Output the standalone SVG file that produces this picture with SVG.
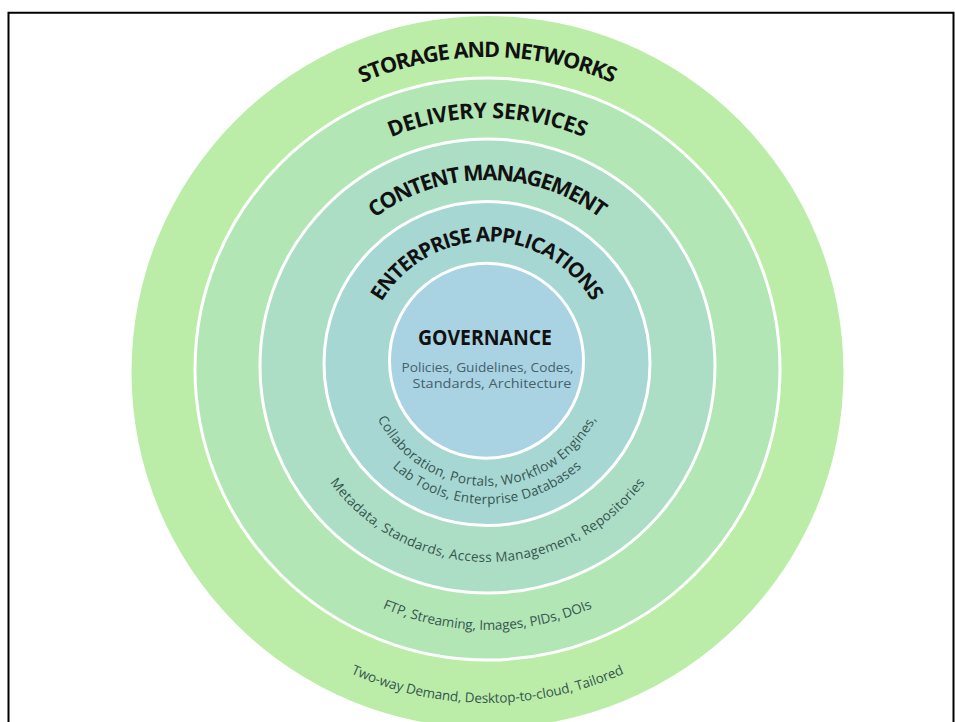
<svg xmlns="http://www.w3.org/2000/svg" xmlns:xlink="http://www.w3.org/1999/xlink" width="955" height="722" viewBox="0 0 955 722">
  <style>
    .ring { stroke: #ffffff; stroke-width: 3; }
    .title { font-family: "Open Sans", "Noto Sans", "Liberation Sans", sans-serif; font-weight: 700; font-size: 21.5px; fill: #111111; }
    .desc { font-family: "Open Sans", "Noto Sans", "Liberation Sans", sans-serif; font-weight: 400; font-size: 13.5px; fill: #36554f; }
  </style>
  <defs>
    <path id="pStorage" d="M 172.5 372 A 315 315 0 0 1 802.5 372"/>
    <path id="pDelivery" d="M 236.5 369 A 251 251 0 0 1 738.5 369"/>
    <path id="pContent" d="M 301.5 366 A 186 186 0 0 1 673.5 366"/>
    <path id="pEnterprise" d="M 365 363.5 A 122 122 0 0 1 609 363.5"/>
    <path id="pCollab" d="M 364.5 363.5 A 122.5 122.5 0 0 0 609.5 363.5"/>
    <path id="pLab" d="M 346.5 363.5 A 140.5 140.5 0 0 0 627.5 363.5"/>
    <path id="pMeta" d="M 291.5 366 A 196 196 0 0 0 683.5 366"/>
    <path id="pFTP" d="M 226.5 369 A 261 261 0 0 0 748.5 369"/>
    <path id="pTwo" d="M 156.5 372 A 331 331 0 0 0 818.5 372"/>
  </defs>
  <rect x="0" y="0" width="955" height="722" fill="#ffffff"/>
  <path d="M 8.5 722 L 8.5 12.7 L 953.5 12.7 L 953.5 722" fill="none" stroke="#000000" stroke-width="2"/>

  <g id="storage-networks">
    <ellipse cx="487.5" cy="372" rx="356" ry="356" fill="#bbeda8"/>
    <text class="title"><textPath href="#pStorage" xlink:href="#pStorage" startOffset="50%" text-anchor="middle" textLength="258" lengthAdjust="spacing">STORAGE AND NETWORKS</textPath></text>
  </g>
  <g id="delivery-services">
    <ellipse class="ring" cx="487.5" cy="369" rx="292.5" ry="291" fill="#b2e6b5"/>
    <text class="title"><textPath href="#pDelivery" xlink:href="#pDelivery" startOffset="50%" text-anchor="middle" textLength="198" lengthAdjust="spacing">DELIVERY SERVICES</textPath></text>
  </g>
  <g id="content-management">
    <ellipse class="ring" cx="487.5" cy="366" rx="227.5" ry="227" fill="#acdec6"/>
    <text class="title"><textPath href="#pContent" xlink:href="#pContent" startOffset="50%" text-anchor="middle" textLength="242" lengthAdjust="spacing">CONTENT MANAGEMENT</textPath></text>
  </g>
  <g id="enterprise-applications">
    <ellipse class="ring" cx="487" cy="363.5" rx="163" ry="162" fill="#a7d7d3"/>
    <text class="title" style="font-size:20.5px"><textPath href="#pEnterprise" xlink:href="#pEnterprise" startOffset="50%" text-anchor="middle" textLength="254" lengthAdjust="spacing">ENTERPRISE APPLICATIONS</textPath></text>
  </g>
  <g id="governance">
    <ellipse class="ring" cx="486.5" cy="360.7" rx="97" ry="97.5" fill="#a9d3e2"/>
    <text class="title" x="485" y="345" text-anchor="middle" textLength="134" lengthAdjust="spacingAndGlyphs" style="font-size:21px">GOVERNANCE</text>
    <text class="desc" x="487.5" y="371.5" text-anchor="middle" textLength="172" lengthAdjust="spacingAndGlyphs" style="fill:#44616d;font-size:13.5px">Policies, Guidelines, Codes,</text>
    <text class="desc" x="492" y="388" text-anchor="middle" textLength="159" lengthAdjust="spacingAndGlyphs" style="fill:#44616d;font-size:13.5px">Standards, Architecture</text>
  </g>

  <g id="ring-descriptions">
    <text class="desc"><textPath href="#pCollab" xlink:href="#pCollab" startOffset="50%" text-anchor="middle" textLength="270" lengthAdjust="spacing">Collaboration, Portals, Workflow Engines,</textPath></text>
    <text class="desc"><textPath href="#pLab" xlink:href="#pLab" startOffset="50%" text-anchor="middle" textLength="208" lengthAdjust="spacing">Lab Tools, Enterprise Databases</textPath></text>
    <text class="desc"><textPath href="#pMeta" xlink:href="#pMeta" startOffset="50%" text-anchor="middle" textLength="366" lengthAdjust="spacing">Metadata, Standards, Access Management, Repositories</textPath></text>
    <text class="desc"><textPath href="#pFTP" xlink:href="#pFTP" startOffset="50%" text-anchor="middle" textLength="216" lengthAdjust="spacing">FTP, Streaming, Images, PIDs, DOIs</textPath></text>
    <text class="desc"><textPath href="#pTwo" xlink:href="#pTwo" startOffset="50%" text-anchor="middle" textLength="282" lengthAdjust="spacing">Two-way Demand, Desktop-to-cloud, Tailored</textPath></text>
  </g>
</svg>
